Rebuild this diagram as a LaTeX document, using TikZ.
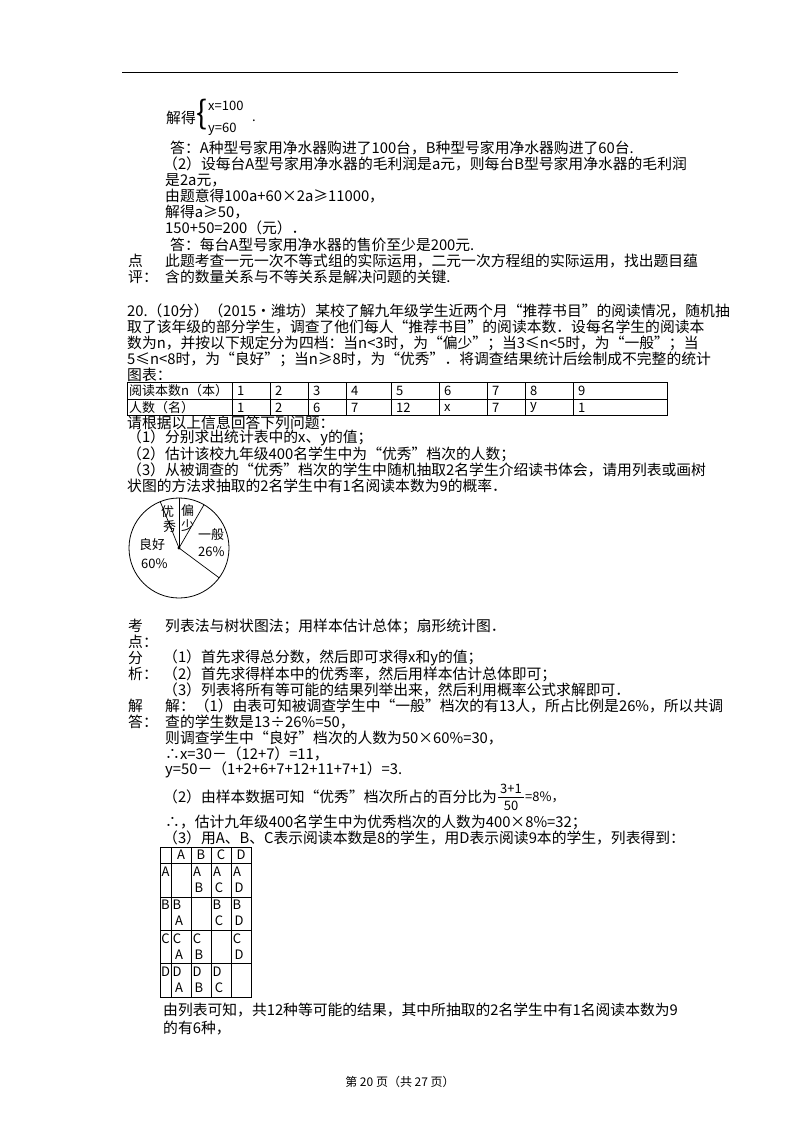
\documentclass[tikz,border=0pt]{standalone}
\usepackage{fontspec}
\setmainfont{Noto Sans CJK SC}
\begin{document}
\begin{tikzpicture}[x=1pt,y=-1pt,
  t/.style={anchor=west,inner sep=0pt,font=\fontsize{14.8}{16}\selectfont},
  s/.style={anchor=west,inner sep=0pt,font=\fontsize{13}{14}\selectfont},
  c/.style={inner sep=0pt,font=\fontsize{13}{14}\selectfont},
  tb/.style={line width=0.8pt}]
\useasboundingbox (0,0) rectangle (800,1132);
\fill[white] (0,0) rectangle (800,1132);
\draw[line width=0.8pt] (122,72) -- (678,72);
% top
\node[t] (jd) at (166,118) {解得};
\node[inner sep=0pt,font=\fontsize{32}{32}\selectfont] (br) at (202,115) {\{};
\node[s] (x1) at (208,106) {x=100};
\node[s] (y1) at (208,129) {y=60};
\node[s] (dot) at (252,121) {.};
\node[t] (l1) at (170,148) {答：A种型号家用净水器购进了100台，B种型号家用净水器购进了60台.};
\node[t] (l2) at (163,164) {（2）设每台A型号家用净水器的毛利润是a元，则每台B型号家用净水器的毛利润};
\node[t] (l3) at (165,180) {是2a元，};
\node[t] (l4) at (165,196) {由题意得100a+60×2a≥11000，};
\node[t] (l5) at (165,212) {解得a≥50，};
\node[t] (l6) at (165,228) {150+50=200（元）．};
\node[t] (l7) at (170,245) {答：每台A型号家用净水器的售价至少是200元.};
\node[t] (dp1) at (128,261) {点};
\node[t] (dp2) at (128,277) {评：};
\node[t] (l8) at (165,261) {此题考查一元一次不等式组的实际运用，二元一次方程组的实际运用，找出题目蕴};
\node[t] (l9) at (165,277) {含的数量关系与不等关系是解决问题的关键.};
% problem 20
\node[t] (p1) at (127,311) {20.（10分）（2015•潍坊）某校了解九年级学生近两个月“推荐书目”的阅读情况，随机抽};
\node[t] (p2) at (127,327) {取了该年级的部分学生，调查了他们每人“推荐书目”的阅读本数．设每名学生的阅读本};
\node[t] (p3) at (127,343) {数为n，并按以下规定分为四档：当n<3时，为“偏少”；当3≤n<5时，为“一般”；当};
\node[t] (p4) at (127,359) {5≤n<8时，为“良好”；当n≥8时，为“优秀”．将调查结果统计后绘制成不完整的统计};
\node[t] (p5) at (127,375) {图表：};
% table 1
\draw[tb] (127,382) rectangle (667,415);
\draw[tb] (127,399) -- (667,399);
\foreach \xx in {232,270,308,346,391,439,487,525,573} \draw[tb] (\xx,382) -- (\xx,415);
\node[s] (h0) at (129,390.5) {阅读本数n（本）};
\node[s] (r0) at (129,407.5) {人数（名）};
\foreach \xx/\a/\b in {232/1/1,270/2/2,308/3/6,346/4/7,391/5/12,439/6/x,487/7/7,525/8/y,573/9/1}{
  \node[s] at (\xx+5,390.5) {\a};
  \node[s] at (\xx+5,407.5) {\b};}
\node[t] (q0) at (127,423) {请根据以上信息回答下列问题：};
\node[t] (q1) at (127,438) {（1）分别求出统计表中的x、y的值；};
\node[t] (q2) at (127,454) {（2）估计该校九年级400名学生中为“优秀”档次的人数；};
\node[t] (q3) at (127,470) {（3）从被调查的“优秀”档次的学生中随机抽取2名学生介绍读书体会，请用列表或画树};
\node[t] (q4) at (127,486) {状图的方法求抽取的2名学生中有1名阅读本数为9的概率．};
% pie
\begin{scope}[shift={(179,548)},y=1pt]
\draw[line width=0.8pt] (0,0) circle (50);
\foreach \ang in {90,60,112,-36.6} \draw[line width=0.7pt] (0,0) -- (\ang:50);
\fill (0,0) circle (1.6);
\end{scope}
\node[s] (yx1) at (161,512) {优};
\node[s] (yx2) at (163,527) {秀};
\node[s] (ps1) at (181,511) {偏};
\node[s] (ps2) at (181,526) {少};
\node[s] (yb) at (198,535) {一般};
\node[s] (yb2) at (198,552) {26\%};
\node[s] (lh) at (139,545) {良好};
\node[s] (lh2) at (141,564) {60\%};
% 考点 etc
\node[t] (kd1) at (128,626) {考};
\node[t] (kd2) at (128,642) {点：};
\node[t] (kdt) at (165,626) {列表法与树状图法；用样本估计总体；扇形统计图．};
\node[t] (fx1) at (128,658) {分};
\node[t] (fx2) at (128,674) {析：};
\node[t] (f1) at (163,658) {（1）首先求得总分数，然后即可求得x和y的值；};
\node[t] (f2) at (163,674) {（2）首先求得样本中的优秀率，然后用样本估计总体即可；};
\node[t] (f3) at (163,690) {（3）列表将所有等可能的结果列举出来，然后利用概率公式求解即可．};
\node[t] (jj1) at (128,706) {解};
\node[t] (jj2) at (128,722) {答：};
\node[t] (a1) at (165,706) {解：（1）由表可知被调查学生中“一般”档次的有13人，所占比例是26\%，所以共调};
\node[t] (a2) at (165,722) {查的学生数是13÷26\%=50，};
\node[t] (a3) at (165,738) {则调查学生中“良好”档次的人数为50×60\%=30，};
\node[t] (a4) at (165,754) {∴x=30－（12+7）=11，};
\node[t] (a5) at (165,770) {y=50－（1+2+6+7+12+11+7+1）=3.};
\node[t] (a6) at (163,797) {（2）由样本数据可知“优秀”档次所占的百分比为};
\node[c] (fr1) at (511,789) {3+1};
\node[c] (fr2) at (511,806) {50};
\draw[line width=0.7pt] (498,797) -- (524,797);
\node[s] (a6b) at (525,797) {=8\%，};
\node[t] (a7) at (165,822) {∴，估计九年级400名学生中为优秀档次的人数为400×8\%=32；};
\node[t] (a8) at (163,838) {（3）用A、B、C表示阅读本数是8的学生，用D表示阅读9本的学生，列表得到：};
% table 2
\draw[tb] (160,847) rectangle (251,997);
\foreach \yy in {863,897,930,963} \draw[tb] (160,\yy) -- (251,\yy);
\foreach \xx in {171,191,211,231} \draw[tb] (\xx,847) -- (\xx,997);
\foreach \n [count=\i] in {A,B,C,D}{
  \node[c] at (171+\i*20-10,855) {\n};
  \node[c] at (165.5,863+\i*33.5-25) {\n};}
\foreach \r/\cc/\p/\q in {1/2/A/B,1/3/A/C,1/4/A/D,2/1/B/A,2/3/B/C,2/4/B/D,3/1/C/A,3/2/C/B,3/4/C/D,4/1/D/A,4/2/D/B,4/3/D/C}{
  \node[c] at (171+\cc*20-14,863+\r*33.5-25) {\p};
  \node[c] at (171+\cc*20-12,863+\r*33.5-9) {\q};}
\node[t] (e1) at (163,1010) {由列表可知，共12种等可能的结果，其中所抽取的2名学生中有1名阅读本数为9};
\node[t] (e2) at (163,1028) {的有6种，};
\node[c,font=\fontsize{12}{13}\selectfont] (foot) at (400,1082) {第 20 页（共 27 页）};
\end{tikzpicture}
\end{document}
